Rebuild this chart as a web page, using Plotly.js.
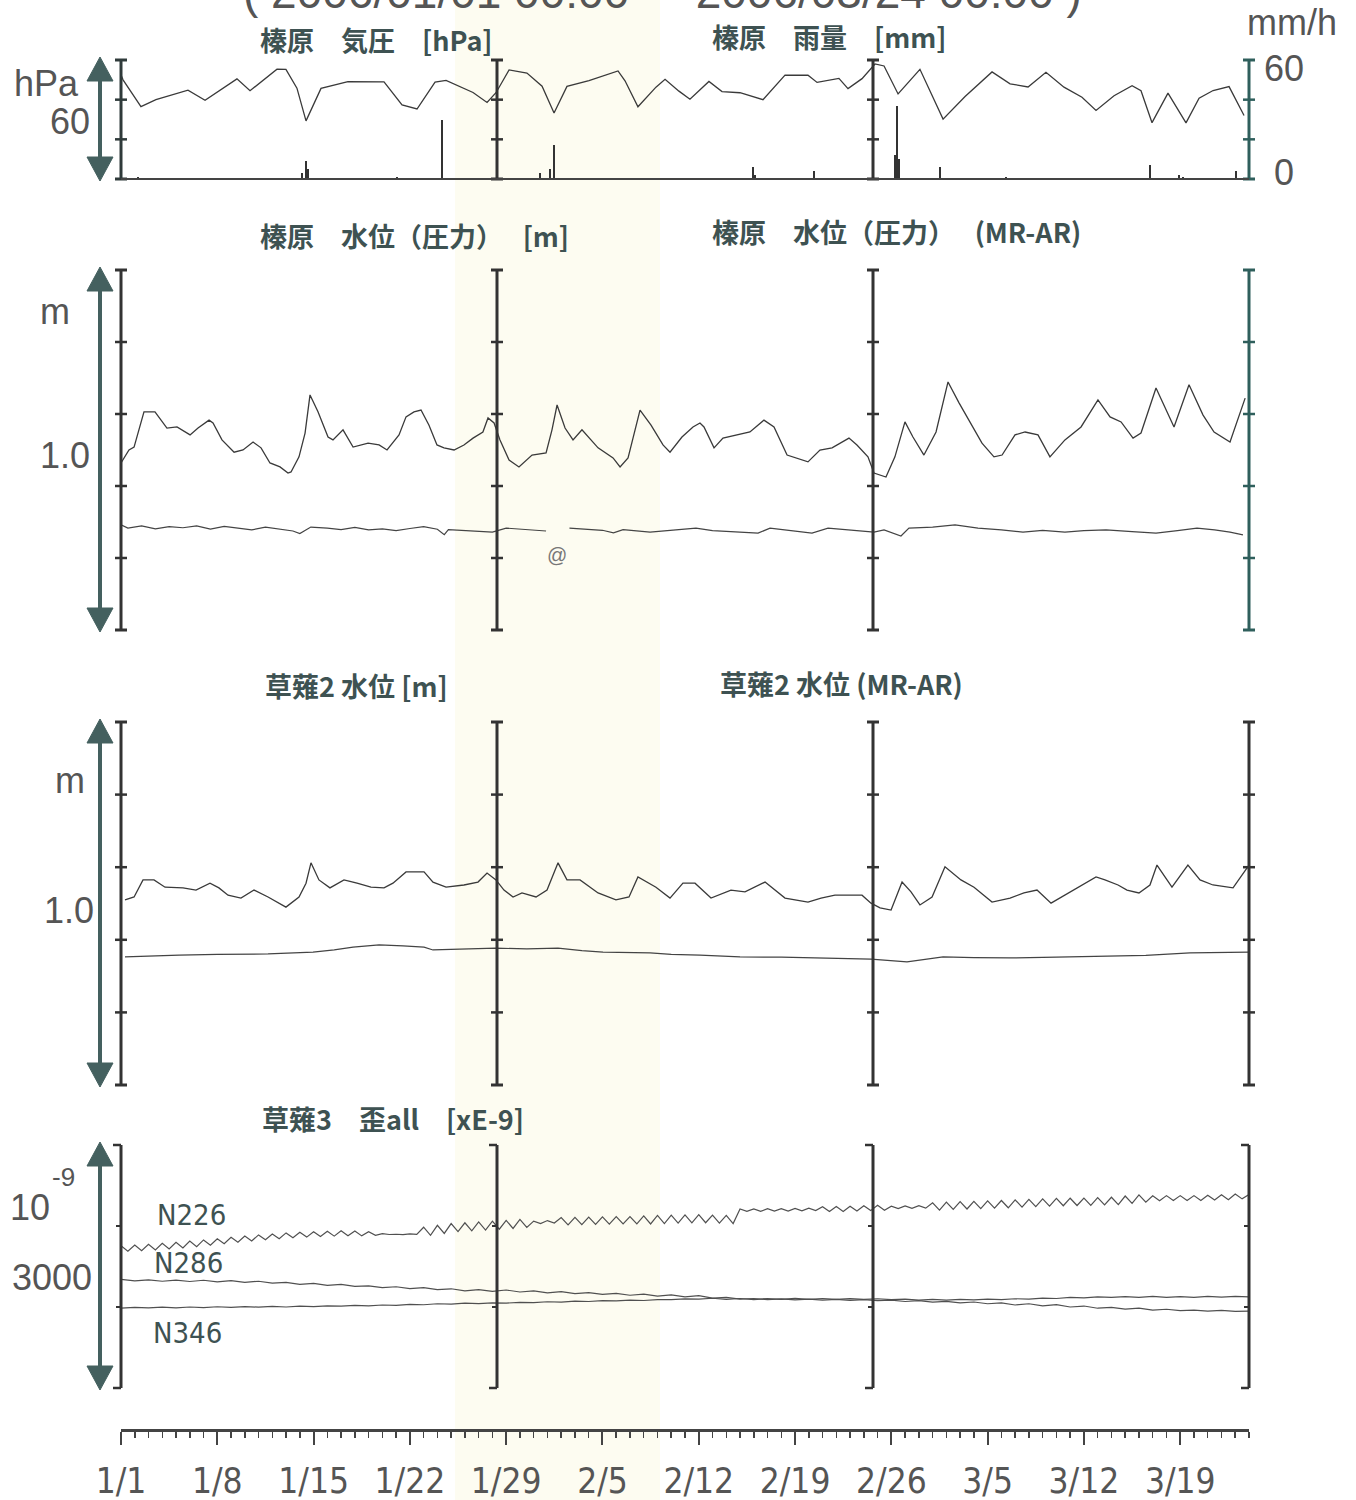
<!DOCTYPE html>
<html><head><meta charset="utf-8">
<script src="https://cdn.plot.ly/plotly-3.0.1.min.js"></script>
<style>html,body{margin:0;padding:0;background:#fff}#chart{width:1356px;height:1500px}</style>
</head><body><div id="chart"></div>
<script>
// ---------------- data (days since 2006-01-01 00:00) ----------------
const START = '2006-01-01', END = '2006-03-24';

const pressureDays = [0,0.15,1.45,2.54,4.87,6.11,8.43,9.38,11.34,11.99,12.79,13.45,14.54,16.5,19.12,20.43,21.52,22.83,23.63,25.59,26.61,27.26,28.21,29.51,30.61,31.48,32.42,34.02,36.13,36.64,37.58,38.89,39.55,40.56,41.36,42.74,43.69,45,46.67,48.27,49.94,50.6,52.19,52.85,53.87,54.81,55.47,56.49,58.08,59.76,61.36,63.32,64.63,65.94,67.24,68.55,69.86,70.88,72.19,73.5,74.15,74.95,76.11,77.42,78.37,79.39,80.55,81.64];
const pressureHpa = [1022.5,1020,1006.5,1010,1014.8,1009.7,1020.5,1014.5,1025.4,1025.3,1015.8,999.3,1015.7,1019.1,1019,1007.4,1005.3,1018.8,1019.7,1013.6,1008.6,1013.5,1025,1023.4,1016.8,1003.3,1016.7,1019.6,1024.5,1019.5,1006.4,1016.3,1020.3,1014.3,1010.2,1019.2,1014.1,1013.5,1010,1022.4,1022.3,1018.7,1020.7,1015.6,1020.6,1028,1027,1012.9,1025.3,1000.2,1011.6,1024,1018,1016.4,1023.8,1016.3,1011.2,1004.6,1012,1017,1014.5,998.4,1013.3,998.3,1010.7,1014.6,1016.6,1002];

const rainDays = [1.24,13.16,13.45,13.6,20.06,23.34,30.46,31.19,31.48,45.94,46.1,50.38,56.27,56.41,56.55,59.54,64.34,74.8,76.91,77.2,81.05];
const rainMmh  = [1,3,9,5,1,30,3,5,17,6,2,4,12,37,10,6,1,7,2,1,4];

const haibaraLevelDays = [0,0.58,0.95,1.67,2.47,3.34,4.07,4.43,5.02,5.6,6.4,6.69,7.34,8.22,8.87,9.6,10.18,10.83,11.56,12.14,12.36,12.94,13.38,13.74,14.32,15.05,15.41,16.14,16.87,17.96,18.76,19.34,20.21,20.72,21.3,21.81,22.39,22.97,23.48,24.21,24.93,25.59,26.31,26.68,27.12,27.55,28.21,28.93,29.88,30.9,31.33,31.7,32.28,32.86,33.51,34.68,35.77,36.28,36.86,37.73,38.53,39.4,39.91,40.78,41.58,42.09,42.38,43.11,43.76,45.72,46.74,47.47,48.42,49.94,50.81,51.69,52.92,53.5,54.3,54.74,55.61,56.26,56.99,57.57,58.37,59.25,60.12,60.92,61.65,62.59,63.46,64.05,64.99,65.72,66.66,67.53,68.62,69.79,71.02,71.9,72.7,73.57,74.15,75.24,76.55,77.64,78.66,79.46,80.62,81.72];
const haibaraLevelM = [0.464,0.5,0.508,0.606,0.606,0.561,0.564,0.556,0.542,0.561,0.583,0.575,0.528,0.494,0.5,0.522,0.506,0.464,0.453,0.436,0.439,0.481,0.547,0.653,0.606,0.536,0.528,0.556,0.508,0.519,0.514,0.5,0.542,0.592,0.606,0.611,0.569,0.514,0.506,0.5,0.514,0.533,0.55,0.589,0.575,0.528,0.472,0.453,0.486,0.492,0.556,0.625,0.561,0.528,0.556,0.506,0.478,0.453,0.478,0.611,0.569,0.514,0.494,0.536,0.564,0.575,0.564,0.506,0.533,0.55,0.583,0.564,0.486,0.467,0.5,0.506,0.533,0.514,0.481,0.436,0.425,0.481,0.578,0.536,0.486,0.55,0.689,0.631,0.583,0.519,0.481,0.486,0.542,0.55,0.542,0.481,0.528,0.564,0.639,0.592,0.578,0.533,0.547,0.672,0.564,0.681,0.597,0.55,0.522,0.644];

const haibaraArDays = [0,0.5,1.5,2.5,3.5,4.5,5.5,6.5,7.5,8.5,9.5,10.5,11.5,12.5,13,13.8,15,16,17,18,19,20,21,22,23,23.5,23.8,25,26,27,28,29,30.3,30.9,31.5,32.6,34,35,35.8,36.5,38.46,40,41.8,43,44.49,46.31,47.18,48.7,50.23,51.4,52.8,54.16,54.74,55.47,56.7,57.28,59,60.63,62.3,64,65.57,67,68.62,70,71.61,73.5,75.24,76.8,78.22,79.5,80.62,81.56];
const haibaraArM = [0.292,0.283,0.289,0.281,0.287,0.284,0.289,0.28,0.288,0.283,0.278,0.286,0.281,0.275,0.268,0.286,0.283,0.279,0.285,0.278,0.281,0.276,0.282,0.287,0.28,0.265,0.279,0.276,0.274,0.272,0.283,0.28,0.275,0.275,null,0.283,0.28,0.277,0.27,0.279,0.272,0.278,0.283,0.276,0.272,0.269,0.283,0.277,0.269,0.283,0.278,0.275,0.272,0.278,0.261,0.283,0.286,0.292,0.283,0.278,0.272,0.277,0.272,0.276,0.278,0.273,0.269,0.276,0.283,0.278,0.272,0.264];

const kusanagi2Days = [0.29,0.95,1.6,2.4,3.2,4.51,5.45,6.47,7.12,7.78,8.72,9.67,10.69,11.99,12.94,13.45,13.81,14.39,15.19,16.21,17.16,18.17,19.12,19.77,20.72,22.03,22.68,23.63,24.93,25.95,26.61,27.26,27.84,28.5,29.15,30.17,30.97,31.77,32.42,33.37,34.68,35.98,36.93,37.58,38.89,39.91,40.85,41.73,42.89,44.34,45.36,46.82,48.27,49.94,50.89,51.9,52.85,53.87,54.52,55.18,55.98,56.78,57.43,58.08,58.96,59.9,61.06,62.01,63.32,64.63,65.64,66.59,67.61,68.92,69.86,70.88,71.53,72.48,73.13,74,74.8,75.31,76.4,77.56,78.44,79.38,80.84,82];
const kusanagi2M = [0.51,0.518,0.565,0.565,0.545,0.543,0.537,0.556,0.543,0.523,0.515,0.537,0.518,0.49,0.518,0.556,0.612,0.565,0.543,0.565,0.556,0.545,0.543,0.556,0.587,0.587,0.559,0.545,0.551,0.559,0.584,0.565,0.537,0.518,0.529,0.518,0.537,0.612,0.565,0.565,0.529,0.51,0.518,0.573,0.545,0.515,0.556,0.556,0.515,0.537,0.532,0.559,0.515,0.504,0.515,0.523,0.523,0.523,0.501,0.488,0.482,0.559,0.532,0.496,0.518,0.601,0.565,0.545,0.504,0.515,0.529,0.537,0.501,0.529,0.551,0.573,0.565,0.551,0.537,0.529,0.551,0.606,0.545,0.606,0.565,0.551,0.543,0.606];

const kusanagi2ArDays = [0.29,2,4.22,7,10.69,13.96,15.5,16.87,18.76,20.5,22.03,22.68,25,27.26,29.5,31.77,33.5,35.04,38.46,40,42.09,45,48,51,54.52,57.14,59.76,62,64.63,68,71.17,74.5,77.71,80,82];
const kusanagi2ArM = [0.353,0.356,0.358,0.36,0.361,0.366,0.372,0.38,0.386,0.383,0.38,0.372,0.375,0.377,0.375,0.377,0.37,0.366,0.364,0.36,0.358,0.353,0.352,0.35,0.347,0.339,0.353,0.351,0.35,0.352,0.355,0.357,0.364,0.365,0.366];

// strain (x1e-9), N226 every 12 h, N286 / N346 every 24 h
const strainN226 = [1755,1690,1765,1695,1775,1705,1787,1717,1800,1730,1815,1745,1828,1762,1842,1782,1860,1800,1875,1815,1890,1830,1902,1842,1915,1855,1923,1863,1930,1870,1935,1875,1940,1880,1938,1878,1930,1885,1905,1895,1898,1893,1903,1897,1985,1885,2008,1908,2030,1930,2040,1940,2050,1950,2060,1960,2070,1970,2082,1982,2060,2030,2067,2037,2105,2015,2107,2017,2110,2020,2113,2023,2115,2025,2117,2027,2125,2025,2130,2030,2135,2035,2138,2038,2140,2040,2135,2035,2130,2030,2210,2180,2210,2180,2213,2183,2215,2185,2218,2188,2220,2190,2238,2178,2240,2180,2245,2185,2250,2190,2255,2195,2245,2215,2247,2217,2250,2220,2287,2197,2295,2205,2300,2210,2305,2215,2310,2220,2315,2225,2323,2233,2330,2240,2335,2245,2340,2250,2343,2253,2345,2255,2350,2260,2355,2265,2370,2280,2385,2295,2373,2313,2375,2315,2375,2315,2375,2315,2380,2320,2385,2325,2395,2335,2390];
const strainN286 = [1340,1322,1336,1318,1333,1315,1330,1310,1325,1305,1318,1295,1305,1280,1292,1268,1280,1255,1262,1240,1250,1228,1240,1215,1225,1200,1215,1192,1210,1185,1200,1175,1190,1165,1178,1155,1168,1145,1158,1135,1150,1125,1140,1110,1118,1098,1105,1092,1100,1088,1096,1085,1094,1082,1092,1078,1085,1068,1078,1060,1070,1050,1062,1040,1050,1025,1040,1015,1030,1000,1012,985,995,975,985,962,972,955,962,950,958,945,950];
const strainN346 = [985,995,988,998,990,1000,993,1003,995,1005,998,1008,1000,1012,1005,1015,1010,1020,1015,1025,1020,1032,1028,1040,1035,1048,1042,1052,1048,1058,1055,1065,1060,1072,1068,1078,1075,1085,1080,1092,1090,1100,1098,1108,1095,1105,1092,1104,1095,1106,1095,1105,1093,1103,1095,1102,1090,1098,1085,1095,1085,1095,1088,1098,1092,1102,1098,1110,1105,1118,1112,1125,1118,1128,1120,1130,1118,1128,1120,1130,1122,1130,1125];

const tickDates  = ['2006-01-01','2006-01-08','2006-01-15','2006-01-22','2006-01-29','2006-02-05','2006-02-12','2006-02-19','2006-02-26','2006-03-05','2006-03-12','2006-03-19'];
const tickLabels = ['1/1','1/8','1/15','1/22','1/29','2/5','2/12','2/19','2/26','3/5','3/12','3/19'];

// ---------------- helpers ----------------
const DAY = 86400000, T0 = Date.UTC(2006,0,1);
const toDate = d => new Date(T0 + d*DAY).toISOString().replace('T',' ').slice(0,19);
const W = 1356, H = 1500, X0 = 121, X1 = 1249;
const px = p => p / W, py = p => 1 - p / H;
const SANS = 'Liberation Sans, Arial, sans-serif';
const NARROW = 'Liberation Sans Narrow, Arial Narrow, DejaVu Sans Condensed, sans-serif';
const CJK = 'Noto Sans CJK JP, sans-serif';
const LINE = '#3a3a3a';

function line(xs, ys, yaxis, color, width) {
  return {type:'scatter', mode:'lines', x: xs.map(toDate), y: ys, yaxis: yaxis,
    line:{color: color || LINE, width: width || 1.3}, connectgaps:false, hoverinfo:'skip'};
}
const halfDay = strainN226.map((_, i) => i * 0.5);
const fullDay = strainN286.map((_, i) => i);

const traces = [
  line(pressureDays, pressureHpa, 'y'),
  {type:'bar', x: rainDays.map(toDate), y: rainMmh, yaxis:'y2', width: 0.12*DAY,
   marker:{color:'#333', line:{width:0}}, hoverinfo:'skip'},
  line(haibaraLevelDays, haibaraLevelM, 'y3'),
  line(haibaraArDays, haibaraArM, 'y3', '#444', 1.2),
  line(kusanagi2Days, kusanagi2M, 'y4'),
  line(kusanagi2ArDays, kusanagi2ArM, 'y4', '#444', 1.2),
  line(halfDay, strainN226, 'y5', '#505050', 1.2),
  line(fullDay, strainN286, 'y5', '#505050', 1.2),
  line(fullDay, strainN346, 'y5', '#505050', 1.2)
];

// ---------------- decorations ----------------
const shapes = [];
shapes.push({type:'rect', xref:'paper', yref:'paper', x0:px(455), x1:px(660), y0:0, y1:1,
  fillcolor:'#fdfcf1', line:{width:0}, layer:'below'});
function seg(x0,y0,x1,y1,color,width){
  shapes.push({type:'line', xref:'paper', yref:'paper', x0:px(x0), y0:py(y0), x1:px(x1), y1:py(y1),
    line:{color:color, width:width}});
}
function tri(pts, color){
  const d = 'M ' + pts.map(p => px(p[0]) + ',' + py(p[1])).join(' L ') + ' Z';
  shapes.push({type:'path', xref:'paper', yref:'paper', path:d, fillcolor:color, line:{color:color, width:1}});
}
const panels = [
  {top:60, bottom:179, n:3, style:'I', colors:['#2f3a3a','#333','#333','#2f5f5c']},
  {top:270, bottom:630, n:5, style:'I', colors:['#333','#333','#333','#2f5f5c']},
  {top:722, bottom:1085, n:5, style:'I', colors:['#333','#333','#333','#333']},
  {top:1145, bottom:1388, n:3, style:']', colors:['#333','#333','#333','#333']}
];
const arrowColor = '#44605f';
panels.forEach(p => {
  for (let k = 0; k < 4; k++) {
    const x = X0 + k * (X1 - X0) / 3, c = p.colors[k];
    seg(x, p.top, x, p.bottom, c, 3);
    for (let j = 0; j <= p.n; j++) {
      const y = p.top + j * (p.bottom - p.top) / p.n;
      const end = (j === 0 || j === p.n);
      if (p.style === 'I') seg(x - 6, y, x + 6, y, c, end ? 3 : 2.5);
      else seg(x - (end ? 8 : 5), y, x, y, c, end ? 2.5 : 2);
    }
  }
  const ax = 100, t = p.top - 3, b = p.bottom + 2;
  seg(ax, t + 20, ax, b - 20, arrowColor, 4);
  tri([[ax, t], [ax - 13, t + 24], [ax + 13, t + 24]], arrowColor);
  tri([[ax, b], [ax - 13, b - 24], [ax + 13, b - 24]], arrowColor);
});
seg(X0, 179, X1, 179, '#444', 2);

// ---------------- text ----------------
const annotations = [];
function txt(text, x, y, size, family, color, xanchor, weight) {
  annotations.push({text:text, xref:'paper', yref:'paper', x:px(x), y:py(y), showarrow:false,
    xanchor: xanchor || 'left', yanchor:'middle',
    font:{family:family, size:size, color:color, weight: weight || 'normal'}});
}
const TC = '#3e5252', GC = '#555';
txt('( 2006/01/01 00:00  -  2006/03/24 00:00 )', 662, -8, 46, SANS, GC, 'center');
txt('榛原　気圧　[hPa]', 258, 40, 27, CJK, TC, 'left', 'bold');
txt('榛原　雨量　[mm]', 710, 37, 27, CJK, TC, 'left', 'bold');
txt('榛原　水位（圧力）　 [m]', 258, 235, 27, CJK, TC, 'left', 'bold');
txt('榛原　水位（圧力）　 (MR-AR)', 710, 231, 27, CJK, TC, 'left', 'bold');
txt('草薙2 水位 [m]', 263, 685, 27, CJK, TC, 'left', 'bold');
txt('草薙2 水位 (MR-AR)', 718, 683, 27, CJK, TC, 'left', 'bold');
txt('草薙3　歪all　[xE-9]', 260, 1118, 27, CJK, TC, 'left', 'bold');

txt('hPa', 12, 83, 36, SANS, GC);
txt('60', 48, 121, 36, SANS, GC);
txt('mm/h', 1245, 22, 36, SANS, GC);
txt('60', 1262, 68, 36, SANS, GC);
txt('0', 1272, 173, 36, SANS, GC);
txt('m', 38, 312, 36, SANS, GC);
txt('1.0', 38, 455, 36, SANS, GC);
txt('m', 53, 780, 36, SANS, GC);
txt('1.0', 42, 910, 36, SANS, GC);
txt('10', 8, 1207, 36, SANS, GC);
txt('-9', 50, 1177, 26, SANS, GC);
txt('3000', 10, 1277, 36, SANS, GC);
txt('@', 557, 555, 20, SANS, '#777', 'center');
txt('N226', 155, 1215, 29, NARROW, TC);
txt('N286', 152, 1263, 29, NARROW, TC);
txt('N346', 151, 1333, 29, NARROW, TC);

// ---------------- layout ----------------
const hidden = (lo, hi, range) => ({domain:[py(hi), py(lo)], range:range, visible:false,
  anchor:'free', position:0, fixedrange:true});
const layout = {
  width:W, height:H, margin:{l:0, r:0, t:0, b:0}, paper_bgcolor:'#fff', plot_bgcolor:'rgba(0,0,0,0)',
  showlegend:false, bargap:0,
  xaxis:{type:'date', domain:[px(X0), px(X1)], range:[START, END], anchor:'free', position:py(1430),
    showline:true, linewidth:3, linecolor:'#444', showgrid:false, zeroline:false,
    ticks:'outside', ticklen:13, tickwidth:2, tickcolor:'#444',
    tickmode:'array', tickvals:tickDates, ticktext:tickLabels,
    tickfont:{family:NARROW, size:35, color:GC}, ticklabelstandoff:6,
    minor:{tickmode:'linear', tick0:START, dtick:DAY, ticks:'outside', ticklen:6, tickwidth:1.5, tickcolor:'#444', showgrid:false},
    fixedrange:true},
  yaxis:  hidden(60, 179, [970, 1030]),
  yaxis2: Object.assign(hidden(60, 179, [0, 60]), {overlaying:'y'}),
  yaxis3: hidden(270, 630, [0, 1]),
  yaxis4: hidden(722, 1085, [0, 1]),
  yaxis5: hidden(1145, 1388, [0, 3000]),
  shapes: shapes, annotations: annotations
};
Plotly.newPlot('chart', traces, layout, {staticPlot:true, displayModeBar:false});
</script>
</body></html>
